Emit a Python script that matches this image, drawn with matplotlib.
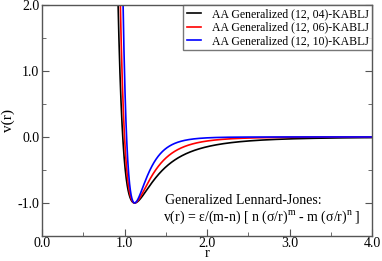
import numpy as np
import matplotlib
matplotlib.use("Agg")
import matplotlib.pyplot as plt
from matplotlib.ticker import MultipleLocator

# Generalized Lennard-Jones parameters (as stated on the chart)
m_exp = 12
n_exps = [4, 6, 10]
labels = ["AA Generalized (12, 04)-KABLJ",
          "AA Generalized (12, 06)-KABLJ",
          "AA Generalized (12, 10)-KABLJ"]
colors = ["black", "red", "blue"]
eps = 1.0
sigma = 2 ** (1 / 6)

plt.rcParams['font.family'] = ['Liberation Serif', 'DejaVu Serif']
plt.rcParams['mathtext.fontset'] = 'custom'
plt.rcParams['mathtext.rm'] = 'Liberation Serif'

fig = plt.figure(figsize=(3.82, 2.61), dpi=100)
ax = fig.add_axes([0.110, 0.096, 0.864, 0.885])

r = np.linspace(0.85, 4.0, 2000)
for n, lab, c in zip(n_exps, labels, colors):
    v = eps / (m_exp - n) * (n * (sigma / r) ** m_exp - m_exp * (sigma / r) ** n)
    ax.plot(r, v, color=c, lw=1.2, label=lab)

ax.set_xlim(0, 4)
ax.set_ylim(-1.5, 2.0)
ax.xaxis.set_major_locator(MultipleLocator(1.0))
ax.xaxis.set_minor_locator(MultipleLocator(0.5))
ax.yaxis.set_major_locator(MultipleLocator(1.0))
ax.yaxis.set_minor_locator(MultipleLocator(0.5))
ax.xaxis.set_major_formatter(plt.FuncFormatter(lambda x, p: f"{x:.1f}"))
ax.yaxis.set_major_formatter(plt.FuncFormatter(lambda x, p: f"{x:.1f}"))
ax.tick_params(which='both', direction='in', top=False, right=True, labelsize=10,
               color='#555555', pad=2)
ax.tick_params(axis='x', which='both', pad=1)
ax.tick_params(which='major', length=5)
ax.tick_params(which='minor', length=3)
for s in ax.spines.values():
    s.set_color('#555555')
    s.set_linewidth(1.0)

ax.set_xlabel("r", fontsize=10.5, labelpad=-2.5)
ax.set_ylabel("v(r)", fontsize=11, labelpad=2)

leg = ax.legend(loc='upper right', fontsize=8.5, frameon=True, fancybox=False,
                borderaxespad=0, handlelength=1.2, handletextpad=0.9,
                borderpad=0.3, labelspacing=0.1)
leg.get_frame().set_edgecolor('#555555')
leg.get_frame().set_linewidth(1.0)

ax.text(1.49, -0.97, "Generalized Lennard-Jones:", fontsize=10, va='center', ha='left')
ax.text(1.47, -1.22, r"v(r) = ε/(m-n) [ n (σ/r)$^{\mathrm{m}}$ - m (σ/r)$^{\mathrm{n}}$ ]",
        fontsize=10, va='center', ha='left')

fig.savefig("out.png", dpi=100)
